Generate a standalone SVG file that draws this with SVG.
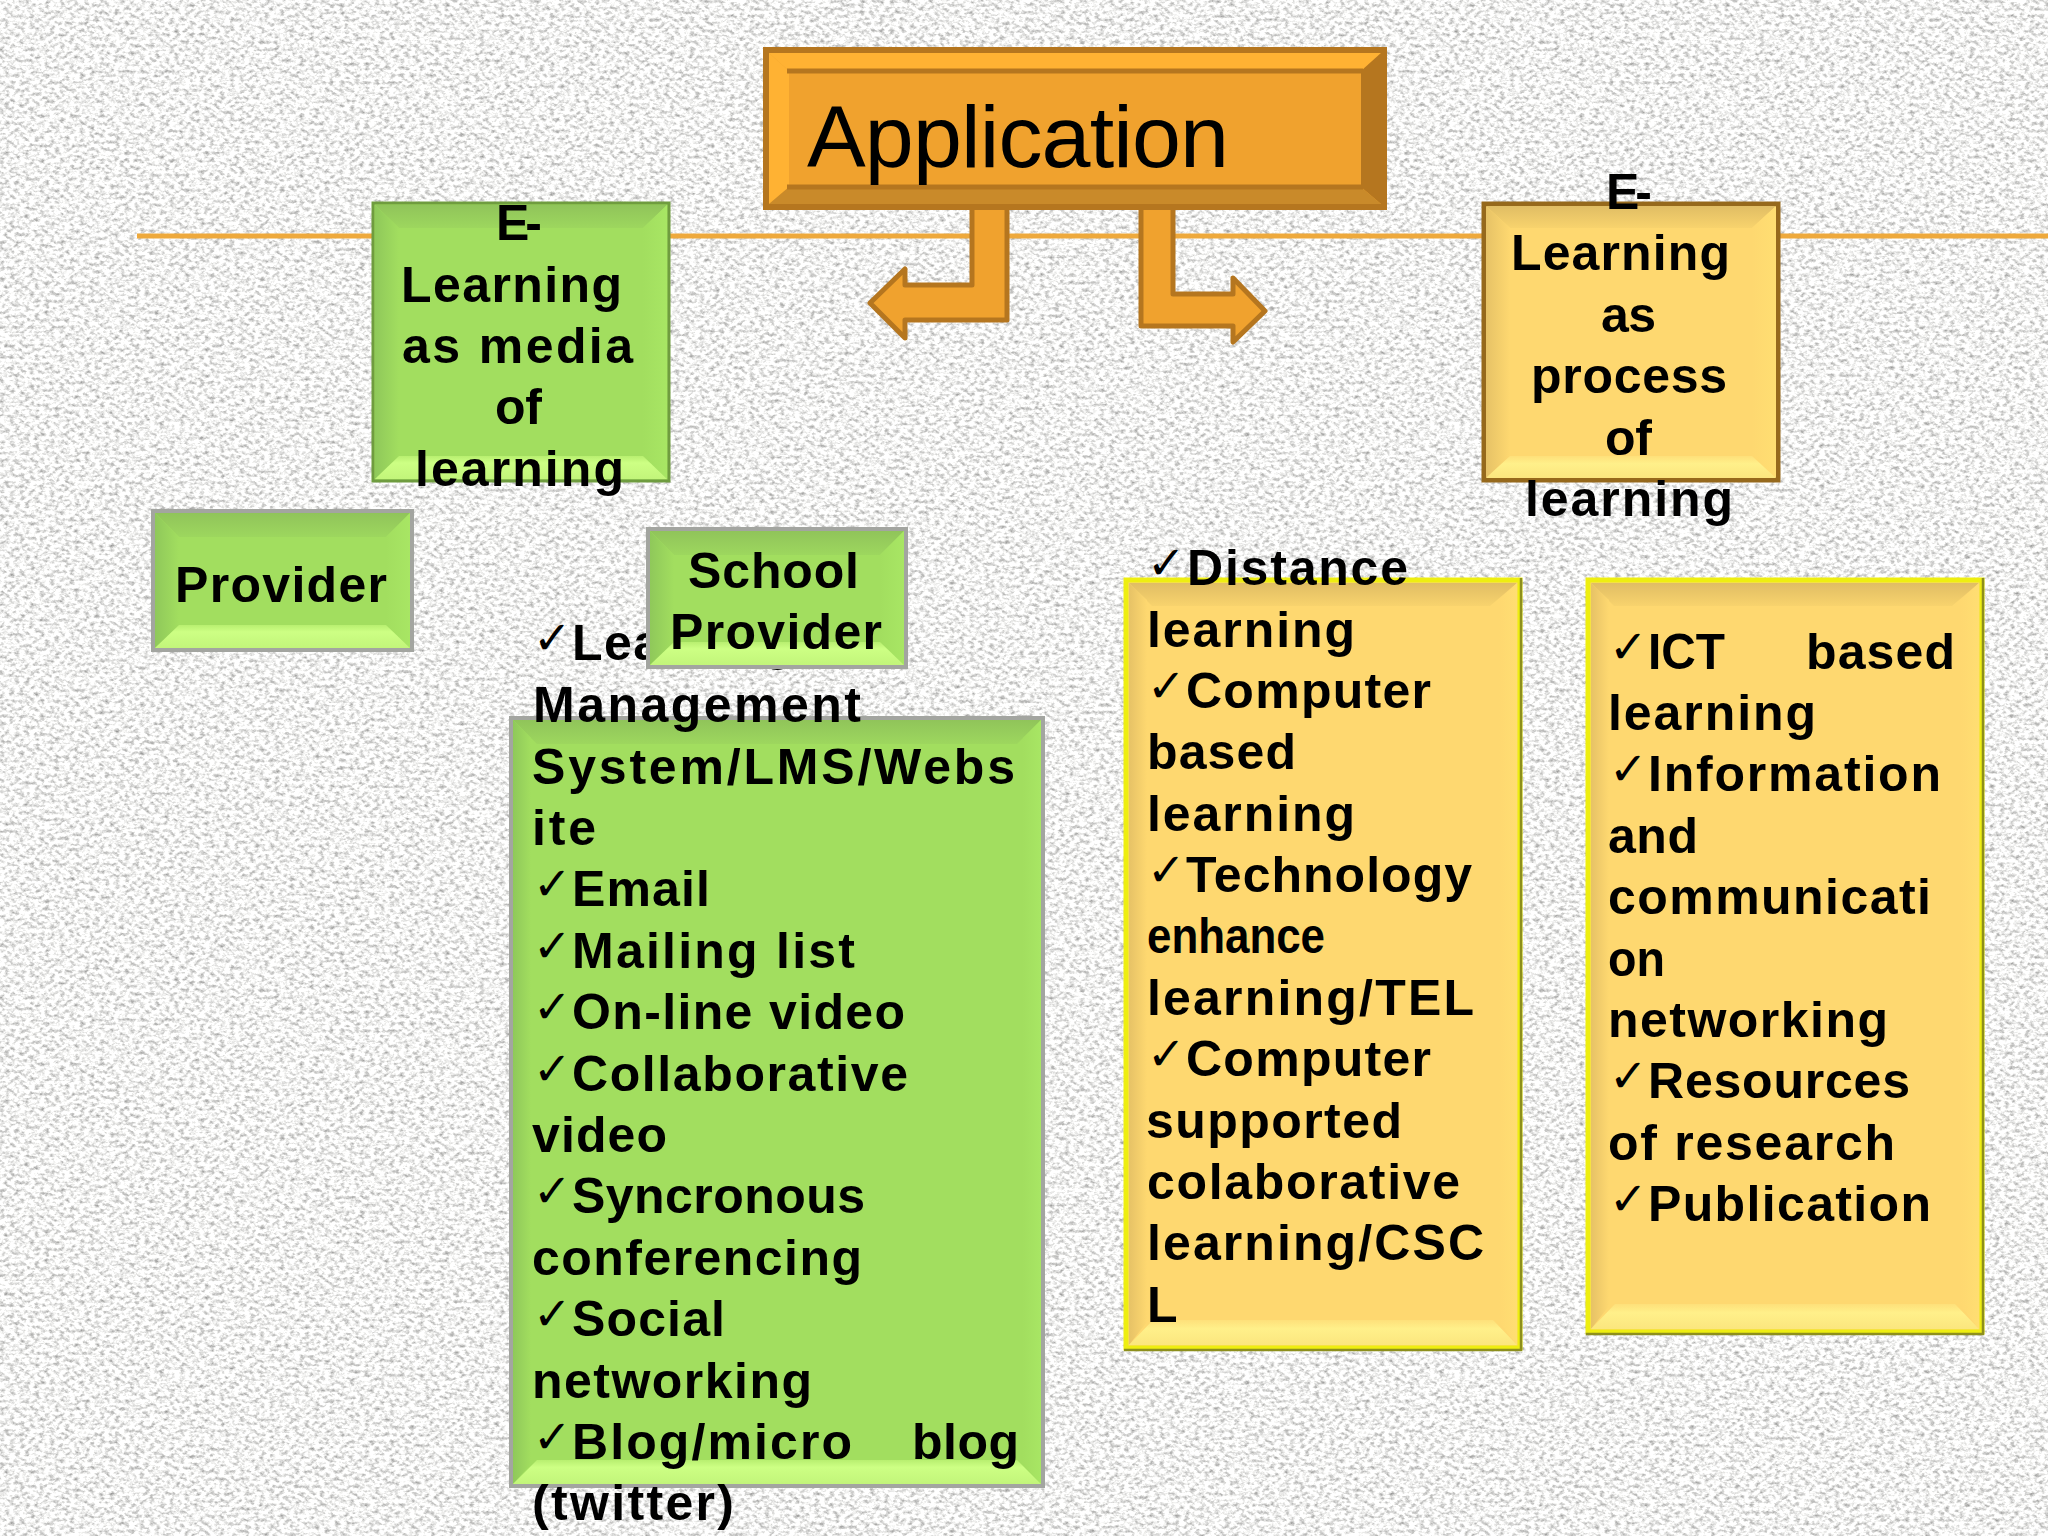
<svg xmlns="http://www.w3.org/2000/svg" width="2048" height="1536" viewBox="0 0 2048 1536">
<style>
text{font-family:"Liberation Sans",Arial,sans-serif;font-weight:700;font-size:50px;fill:#000}
.ck{font-family:"DejaVu Sans",sans-serif;font-weight:400;font-size:46px}
.gc{fill:#a2de5f}.gt{fill:url(#gT)}.gs{fill:url(#gL)}.gr{fill:url(#gR)}.gb{fill:url(#gB)}
.yc{fill:#fed870}.yt{fill:url(#yT)}.ys{fill:url(#yL)}.yr{fill:url(#yR)}.yb{fill:url(#yB)}
.app{font-weight:400;font-size:88px}
</style>
<defs>
<filter id="paper" x="0" y="0" width="100%" height="100%" color-interpolation-filters="sRGB">
<feTurbulence type="fractalNoise" baseFrequency="0.2 0.27" numOctaves="3" seed="7"/>
<feColorMatrix values="0.8 0 0 0 0.55 0.8 0 0 0 0.55 0.8 0 0 0 0.545 0 0 0 0 1"/>
</filter>
<linearGradient id="gT" x1="0" y1="0" x2="0" y2="1"><stop offset="0" stop-color="#90c45a"/><stop offset="1" stop-color="#9dd75e"/></linearGradient>
<linearGradient id="gL" x1="0" y1="0" x2="1" y2="0"><stop offset="0" stop-color="#8fc85a"/><stop offset="1" stop-color="#a2de5f"/></linearGradient>
<linearGradient id="gR" x1="0" y1="0" x2="1" y2="0"><stop offset="0" stop-color="#a2de5f"/><stop offset="1" stop-color="#a8e664"/></linearGradient>
<linearGradient id="gB" x1="0" y1="0" x2="0" y2="1"><stop offset="0" stop-color="#b8ef70"/><stop offset=".3" stop-color="#cdff84"/><stop offset="1" stop-color="#c2f57a"/></linearGradient>
<linearGradient id="yT" x1="0" y1="0" x2="0" y2="1"><stop offset="0" stop-color="#e0bd64"/><stop offset="1" stop-color="#f8d36d"/></linearGradient>
<linearGradient id="yL" x1="0" y1="0" x2="1" y2="0"><stop offset="0" stop-color="#e6c266"/><stop offset="1" stop-color="#fed870"/></linearGradient>
<linearGradient id="yR" x1="0" y1="0" x2="1" y2="0"><stop offset="0" stop-color="#fed870"/><stop offset="1" stop-color="#ffde72"/></linearGradient>
<linearGradient id="yB" x1="0" y1="0" x2="0" y2="1"><stop offset="0" stop-color="#fee07a"/><stop offset=".35" stop-color="#fff08a"/><stop offset="1" stop-color="#fbe67e"/></linearGradient>
</defs>
<rect id="background" width="2048" height="1536" fill="#f0f0ef"/>
<rect width="2048" height="1536" filter="url(#paper)"/>
<g id="connectors">
<path d="M137 236H2048" fill="none" stroke="#eea93c" stroke-width="5"/>
<path d="M972 206H1007V320H905V338L870 303L905 269V285H972Z" fill="#f0a22e" stroke="#b5761f" stroke-width="5" stroke-linejoin="round"/>
<path d="M1141 206H1173V294H1233V278L1265 311L1233 342V326H1141Z" fill="#f0a22e" stroke="#b5761f" stroke-width="5" stroke-linejoin="round"/>
</g>
<g id="application">
<rect x="766" y="50" width="618" height="157" fill="#f0a22e" stroke="#b5761f" stroke-width="6"/>
<path d="M769 53H1381L1361 71H789Z" fill="#ffb233"/>
<path d="M769 53L789 71V187L769 204Z" fill="#ffb233"/>
<path d="M1381 53L1361 71V187L1381 204Z" fill="#b5761f"/>
<path d="M769 204L789 187H1361L1381 204Z" fill="#c98a2a"/>
<path d="M787 71H1363M787 187H1363" fill="none" stroke="#b5761f" stroke-width="5"/>
<text class="app" x="807" y="167" textLength="422">Application</text>
</g>
<g id="media-of-learning">
<rect x="373" y="203" width="296" height="278" class="gc" stroke="#6f9c3f" stroke-width="3"/>
<path d="M375 205H667L643 228H399Z" class="gt"/>
<path d="M375 205L399 228V456L375 479Z" class="gs"/>
<path d="M667 205L643 228V456L667 479Z" class="gr"/>
<path d="M375 479L399 456H643L667 479Z" class="gb"/>
<text x="496" y="240" textLength="46">E-</text>
<text x="401" y="302" textLength="221">Learning</text>
<text x="402" y="363" textLength="231">as media</text>
<text x="495" y="424" textLength="47">of</text>
<text x="415" y="486" textLength="209">learning</text>
</g>
<g id="process-of-learning">
<rect x="1484" y="204" width="294" height="276" class="yc" stroke="#96691c" stroke-width="5"/>
<path d="M1486 206H1776L1752 228H1510Z" class="yt"/>
<path d="M1486 206L1510 228V456L1486 478Z" class="ys"/>
<path d="M1776 206L1752 228V456L1776 478Z" class="yr"/>
<path d="M1486 478L1510 456H1752L1776 478Z" class="yb"/>
<text x="1606" y="209" textLength="46">E-</text>
<text x="1511" y="270" textLength="219">Learning</text>
<text x="1601" y="332" textLength="55">as</text>
<text x="1531" y="393" textLength="196">process</text>
<text x="1605" y="455" textLength="47">of</text>
<text x="1525" y="516" textLength="208">learning</text>
</g>
<g id="provider">
<rect x="153" y="511" width="259" height="139" class="gc" stroke="#a3a5a0" stroke-width="4"/>
<path d="M155 513H410L386 537H179Z" class="gt"/>
<path d="M155 513L179 537V625L155 648Z" class="gs"/>
<path d="M410 513L386 537V625L410 648Z" class="gr"/>
<path d="M155 648L179 625H386L410 648Z" class="gb"/>
<text x="175" y="602" textLength="212">Provider</text>
</g>
<g id="media-list">
<rect x="511" y="718" width="532" height="768" class="gc" stroke="#a3a5a0" stroke-width="4"/>
<path d="M513 720H1041L1017 744H537Z" class="gt"/>
<path d="M513 720L531 738V1464L513 1484Z" class="gs"/>
<path d="M1041 720L1023 738V1464L1041 1484Z" class="gr"/>
<path d="M513 1484L537 1460H1017L1041 1484Z" class="gb"/>
<g>
<text class="ck" x="533" y="654">✓</text><text x="572" y="660" textLength="221">Learning</text>
<text x="533" y="722" textLength="328">Management</text>
<text x="532" y="784" textLength="483">System/LMS/Webs</text>
<text x="532" y="845" textLength="64">ite</text>
<text class="ck" x="533" y="900">✓</text><text x="572" y="906" textLength="138">Email</text>
<text class="ck" x="533" y="962">✓</text><text x="572" y="968" textLength="283">Mailing list</text>
<text class="ck" x="533" y="1023">✓</text><text x="572" y="1029" textLength="333">On-line video</text>
<text class="ck" x="533" y="1085">✓</text><text x="572" y="1091" textLength="336">Collaborative</text>
<text x="532" y="1152" textLength="135">video</text>
<text class="ck" x="533" y="1207">✓</text><text x="572" y="1213" textLength="293">Syncronous</text>
<text x="532" y="1275" textLength="330">conferencing</text>
<text class="ck" x="533" y="1330">✓</text><text x="572" y="1336" textLength="153">Social</text>
<text x="532" y="1398" textLength="280">networking</text>
<text class="ck" x="533" y="1453">✓</text><text x="572" y="1459" textLength="280">Blog/micro</text><text x="912" y="1459" textLength="107">blog</text>
<text x="532" y="1520" textLength="202">(twitter)</text>
</g>
</g>
<g id="school-provider">
<rect x="648" y="529" width="258" height="138" class="gc" stroke="#a3a5a0" stroke-width="4"/>
<path d="M650 531H904L880 555H674Z" class="gt"/>
<path d="M650 531L674 555V642L650 665Z" class="gs"/>
<path d="M904 531L880 555V642L904 665Z" class="gr"/>
<path d="M650 665L674 642H880L904 665Z" class="gb"/>
<text x="688" y="588" textLength="171">School</text>
<text x="670" y="649" textLength="212">Provider</text>
</g>
<g id="distance-list">
<rect x="1126" y="580" width="394" height="768" class="yc" stroke="#eeee10" stroke-width="5"/>
<path d="M1521 578V1350H1124" fill="none" stroke="#8d8f1c" stroke-width="2.5"/>
<path d="M1129 583H1517L1490 606H1152Z" class="yt"/>
<path d="M1129 583L1147 600V1322L1129 1345Z" class="ys"/>
<path d="M1517 583L1499 600V1322L1517 1345Z" class="yr"/>
<path d="M1129 1345L1153 1320H1493L1517 1345Z" class="yb"/>
<text class="ck" x="1147" y="579">✓</text><text x="1187" y="585" textLength="221">Distance</text>
<text x="1147" y="647" textLength="208">learning</text>
<text class="ck" x="1147" y="702">✓</text><text x="1186" y="708" textLength="245">Computer</text>
<text x="1147" y="769" textLength="149">based</text>
<text x="1147" y="831" textLength="208">learning</text>
<text class="ck" x="1147" y="886">✓</text><text x="1186" y="892" textLength="286">Technology</text>
<text x="1147" y="953" textLength="178" lengthAdjust="spacingAndGlyphs">enhance</text>
<text x="1147" y="1015" textLength="327">learning/TEL</text>
<text class="ck" x="1147" y="1070">✓</text><text x="1186" y="1076" textLength="245">Computer</text>
<text x="1146" y="1138" textLength="256">supported</text>
<text x="1147" y="1199" textLength="313">colaborative</text>
<text x="1147" y="1260" textLength="337">learning/CSC</text>
<text x="1147" y="1322">L</text>
</g>
<g id="ict-list">
<rect x="1588" y="580" width="394" height="752" class="yc" stroke="#eeee10" stroke-width="5"/>
<path d="M1983 578V1334H1586" fill="none" stroke="#8d8f1c" stroke-width="2.5"/>
<path d="M1591 583H1979L1952 606H1614Z" class="yt"/>
<path d="M1591 583L1609 600V1306L1591 1329Z" class="ys"/>
<path d="M1979 583L1961 600V1306L1979 1329Z" class="yr"/>
<path d="M1591 1329L1615 1304H1955L1979 1329Z" class="yb"/>
<text class="ck" x="1609" y="663">✓</text><text x="1648" y="669" textLength="77" lengthAdjust="spacingAndGlyphs">ICT</text><text x="1806" y="669" textLength="149">based</text>
<text x="1608" y="730" textLength="208">learning</text>
<text class="ck" x="1609" y="785">✓</text><text x="1648" y="791" textLength="293">Information</text>
<text x="1608" y="853" textLength="90">and</text>
<text x="1608" y="914" textLength="323">communicati</text>
<text x="1608" y="976" textLength="57" lengthAdjust="spacingAndGlyphs">on</text>
<text x="1608" y="1037" textLength="280">networking</text>
<text class="ck" x="1609" y="1092">✓</text><text x="1648" y="1098" textLength="262">Resources</text>
<text x="1608" y="1160" textLength="287">of research</text>
<text class="ck" x="1609" y="1215">✓</text><text x="1648" y="1221" textLength="283">Publication</text>
</g>
</svg>
